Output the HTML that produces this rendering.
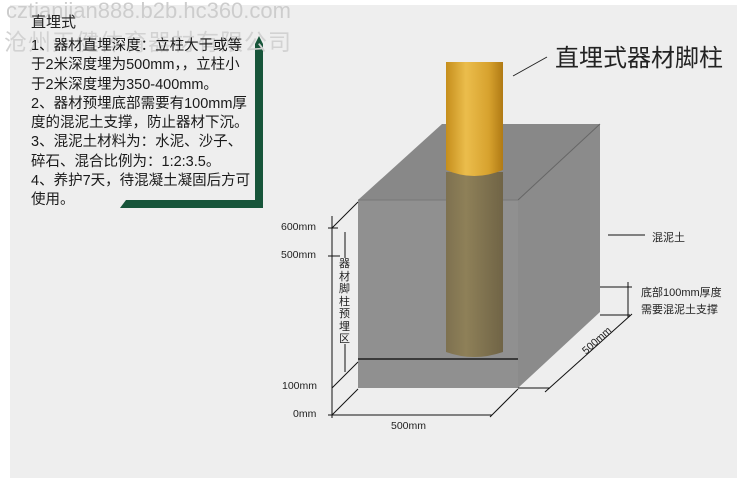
<!DOCTYPE html>
<html><head><meta charset="utf-8"><style>
body{margin:0;width:750px;height:488px;background:#fff;position:relative;overflow:hidden;font-family:"Liberation Sans","Noto Sans CJK SC",sans-serif;}
.panel{position:absolute;left:10px;top:5px;width:727px;height:473px;background:#eeeeee;}
.t{position:absolute;white-space:nowrap;color:#222;}
</style></head><body>
<div class="panel"></div>
<svg width="750" height="488" style="position:absolute;left:0;top:0">
<defs>
<linearGradient id="gold" x1="0" x2="1"><stop offset="0" stop-color="#c58e1c"/><stop offset="0.35" stop-color="#ebbd4c"/><stop offset="0.75" stop-color="#d7a22e"/><stop offset="1" stop-color="#b07a14"/></linearGradient>
<linearGradient id="brown" x1="0" x2="1"><stop offset="0" stop-color="#7e7150"/><stop offset="0.35" stop-color="#8e8058"/><stop offset="1" stop-color="#706446"/></linearGradient>
</defs>
<polygon points="255,44 259,36 263,44 263,208 120,208 126,200 255,200" fill="#17553a"/>
<polygon points="358,200 442,124 600,124 518,200" fill="#888"/>
<polygon points="518,200 600,124 600,312 518,388" fill="#8b8b8b"/>
<rect x="358" y="200" width="160" height="188" fill="#909090"/>
<line x1="518" y1="200" x2="600" y2="124" stroke="#666" stroke-width="1"/>
<line x1="358" y1="200" x2="518" y2="200" stroke="#777" stroke-width="1"/>
<path d="M446,172 L446,352 Q474,362 503,352 L503,172 Z" fill="url(#brown)"/>
<path d="M446,62 L503,62 L503,170 Q474,182 446,170 Z" fill="url(#gold)"/>
<line x1="358" y1="359" x2="518" y2="359" stroke="#3a3a3a" stroke-width="2"/>
<g stroke="#111" stroke-width="1" fill="none">
<line x1="332" y1="216" x2="332" y2="418"/>
<line x1="328" y1="228" x2="338" y2="228"/>
<line x1="328" y1="256" x2="340" y2="256"/>
<line x1="328" y1="415" x2="336" y2="415"/>
<line x1="332" y1="228" x2="358" y2="202"/>
<line x1="332" y1="388" x2="358" y2="362"/>
<line x1="332" y1="415" x2="358" y2="389"/>
<line x1="345" y1="232" x2="345" y2="258"/>
<line x1="345" y1="344" x2="345" y2="372"/>
<line x1="332" y1="415" x2="492" y2="415"/>
<line x1="490" y1="417" x2="518" y2="389"/>
<line x1="518" y1="388" x2="550" y2="388"/>
<line x1="545" y1="392" x2="632" y2="314"/>
<line x1="600" y1="287" x2="632" y2="287"/>
<line x1="600" y1="315" x2="630" y2="315"/>
<line x1="628" y1="282" x2="628" y2="318"/>
<line x1="608" y1="235" x2="645" y2="235"/>
<line x1="513" y1="76" x2="547" y2="57" stroke="#222"/>
</g>
</svg>
<div class="t" style="left:6px;top:-2px;font-size:22px;color:#cdcdcd;">cztianjian888.b2b.hc360.com</div>
<div class="t" style="left:4px;top:23px;font-size:23px;color:#d2d2d2;letter-spacing:1px;">沧州天健体育器材有限公司</div>
<div class="t" style="left:31px;top:14px;font-size:15px;line-height:18px;">直埋式</div>
<div class="t" style="left:31px;top:37px;font-size:14.5px;line-height:19.3px;color:#1a1a1a;">1、器材直埋深度：立柱大于或等<br>于2米深度埋为500mm，，立柱小<br>于2米深度埋为350-400mm。<br>2、器材预埋底部需要有100mm厚<br>度的混泥土支撑，防止器材下沉。<br>3、混泥土材料为：水泥、沙子、<br>碎石、混合比例为：1:2:3.5。<br>4、养护7天，待混凝土凝固后方可<br>使用。</div>
<div class="t" style="left:555px;top:38px;font-size:24px;color:#222;">直埋式器材脚柱</div>
<div class="t" style="left:281px;top:221px;font-size:10.5px;">600mm</div>
<div class="t" style="left:281px;top:249px;font-size:10.5px;">500mm</div>
<div class="t" style="left:282px;top:380px;font-size:10.5px;">100mm</div>
<div class="t" style="left:293px;top:408px;font-size:10.5px;">0mm</div>
<div class="t" style="left:339px;top:258px;font-size:11px;line-height:12.5px;width:12px;white-space:normal;">器材脚柱预埋区</div>
<div class="t" style="left:391px;top:420px;font-size:10.5px;">500mm</div>
<div class="t" style="left:580px;top:348px;font-size:10.5px;transform:rotate(-42deg);transform-origin:left top;">500mm</div>
<div class="t" style="left:652px;top:229px;font-size:11px;">混泥土</div>
<div class="t" style="left:641px;top:285px;font-size:11px;line-height:17px;">底部100mm厚度<br>需要混泥土支撑</div>
</body></html>
